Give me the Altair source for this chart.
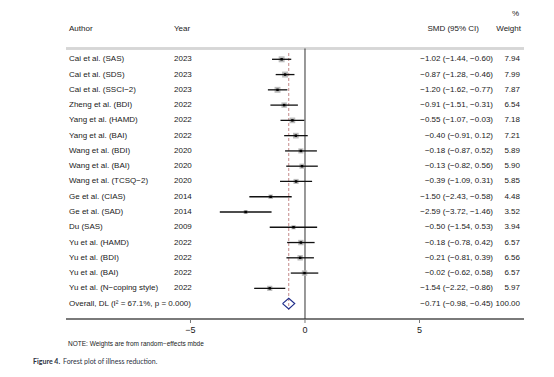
import altair as alt
import pandas as pd

# ---- data ----
authors = ["Cai et al. (SAS)", "Cai et al. (SDS)", "Cai et al. (SSCI\u22122)", "Zheng et al. (BDI)",
           "Yang et al. (HAMD)", "Yang et al. (BAI)", "Wang et al. (BDI)", "Wang et al. (BAI)",
           "Wang et al. (TCSQ\u22122)", "Ge et al. (CIAS)", "Ge et al. (SAD)", "Du (SAS)",
           "Yu et al. (HAMD)", "Yu et al. (BDI)", "Yu et al. (BAI)", "Yu et al. (N\u2212coping style)"]
years = [2023, 2023, 2023, 2022, 2022, 2022, 2020, 2020, 2020, 2014, 2014, 2009, 2022, 2022, 2022, 2022]
smd = [-1.02, -0.87, -1.20, -0.91, -0.55, -0.40, -0.18, -0.13, -0.39, -1.50, -2.59, -0.50, -0.18, -0.21, -0.02, -1.54]
ci_lo = [-1.44, -1.28, -1.62, -1.51, -1.07, -0.91, -0.87, -0.82, -1.09, -2.43, -3.72, -1.54, -0.78, -0.81, -0.62, -2.22]
ci_hi = [-0.60, -0.46, -0.77, -0.31, -0.03, 0.12, 0.52, 0.56, 0.31, -0.58, -1.46, 0.53, 0.42, 0.39, 0.58, -0.86]
weights = [7.94, 7.99, 7.87, 6.54, 7.18, 7.21, 5.89, 5.90, 5.85, 4.48, 3.52, 3.94, 6.57, 6.56, 6.57, 5.97]

overall_label = "Overall, DL (I\u00b2 = 67.1%, p = 0.000)"
overall_smd, overall_lo, overall_hi, overall_weight = -0.71, -0.98, -0.45, 100.00

axis_ticks = [-5, 0, 5]
headers = {"author": "Author", "year": "Year", "ci": "SMD (95% CI)", "weight": "Weight", "pct": "%"}
note_text = "NOTE: Weights are from random\u2212effects mbde"
caption_bold = "Figure 4."
caption_text = "Forest plot of illness reduction."


def fmt(v):
    return f"{v:.2f}".replace("-", "\u2212")


n = len(authors)
studies = pd.DataFrame({
    "row": list(range(1, n + 1)),
    "author": authors,
    "year": [str(y) for y in years],
    "smd": smd, "lo": ci_lo, "hi": ci_hi, "w": weights,
})
studies["ci"] = [f"{fmt(s)} ({fmt(l)}, {fmt(h)})" for s, l, h in zip(smd, ci_lo, ci_hi)]
studies["wt"] = [f"{w:.2f}" for w in weights]
studies["sq"] = studies["w"] * 4.5

orow = n + 1
overall = pd.DataFrame({
    "row": [orow], "author": [overall_label], "year": [""],
    "smd": [overall_smd], "lo": [overall_lo], "hi": [overall_hi],
    "ci": [f"{fmt(overall_smd)} ({fmt(overall_lo)}, {fmt(overall_hi)})"],
    "wt": [f"{overall_weight:.2f}"],
})
labels = pd.concat([studies[["row", "author", "year", "ci", "wt"]],
                    overall[["row", "author", "year", "ci", "wt"]]], ignore_index=True)

dh = 0.35
diamond = pd.DataFrame({
    "smd": [overall_lo, overall_smd, overall_hi, overall_smd, overall_lo],
    "row": [orow, orow - dh, orow, orow + dh, orow],
    "o": [0, 1, 2, 3, 4],
})
ticks = pd.DataFrame({"smd": axis_ticks,
                      "lab": [str(t).replace("-", "\u2212") for t in axis_ticks]})

W, H = 538, 361
xs = alt.Scale(domain=[-12.969, 10.524], nice=False, zero=False)
ys = alt.Scale(domain=[-2.3595, 21.282], nice=False, zero=False, reverse=True)
X = lambda f: alt.X(f, type="quantitative", scale=xs, axis=None)
Y = lambda f: alt.Y(f, type="quantitative", scale=ys, axis=None)

FONT = "Liberation Sans"
TXT = "#1a1a1a"

base_s = alt.Chart(studies)
base_l = alt.Chart(labels)

header_line = alt.Chart(studies).mark_rule(color="#d6d6d6", strokeWidth=1.6).encode(
    x=alt.value(58), x2=alt.value(516), y=alt.value(40.5))
axis_line = alt.Chart(studies).mark_rule(color="#7a7a7a", strokeWidth=1).encode(
    x=alt.value(58), x2=alt.value(516), y=alt.value(311))
zero_line = alt.Chart(ticks).transform_filter("datum.smd == 0").mark_rule(
    color="#333333", strokeWidth=1).encode(x=X("smd"), y=alt.value(40.5), y2=alt.value(311))
dash_line = alt.Chart(overall).mark_rule(color="#c48a8a", strokeWidth=1, strokeDash=[3, 2]).encode(
    x=X("smd"), y=alt.value(45), y2=alt.value(302))
tick_marks = alt.Chart(ticks).mark_rule(color="#7a7a7a", strokeWidth=1).encode(
    x=X("smd"), y=alt.value(311), y2=alt.value(315))
tick_labels = alt.Chart(ticks).mark_text(font=FONT, fontSize=9, color=TXT, baseline="middle").encode(
    x=X("smd"), y=alt.value(322), text="lab:N")

squares = base_s.mark_point(shape="square", filled=True, color="#bdbdbd", opacity=1).encode(
    x=X("smd"), y=Y("row"), size=alt.Size("sq:Q", scale=None, legend=None))
cis = base_s.mark_rule(color="#111111", strokeWidth=1.3).encode(x=X("lo"), x2="hi", y=Y("row"))
dots = base_s.mark_point(shape="square", filled=True, color="#000000", size=6, opacity=1).encode(
    x=X("smd"), y=Y("row"))
dia = alt.Chart(diamond).mark_line(color="#1f2d8a", strokeWidth=1.2).encode(
    x=X("smd"), y=Y("row"), order="o:O")

t_author = base_l.mark_text(font=FONT, fontSize=8, color=TXT, align="left", baseline="middle").encode(
    x=alt.value(61), y=Y("row"), text="author:N")
t_year = base_l.mark_text(font=FONT, fontSize=8, color=TXT, align="left", baseline="middle").encode(
    x=alt.value(166), y=Y("row"), text="year:N")
t_ci = base_l.mark_text(font=FONT, fontSize=8, color=TXT, align="right", baseline="middle").encode(
    x=alt.value(485), y=Y("row"), text="ci:N")
t_wt = base_l.mark_text(font=FONT, fontSize=8, color=TXT, align="right", baseline="middle").encode(
    x=alt.value(512), y=Y("row"), text="wt:N")


def label(txt, x, y, align="left", size=8, weight="normal", font=FONT, color=TXT):
    return alt.Chart(pd.DataFrame({"t": [txt]})).mark_text(
        font=font, fontSize=size, fontWeight=weight, color=color, align=align, baseline="middle"
    ).encode(x=alt.value(x), y=alt.value(y), text="t:N")


h_author = label(headers["author"], 61, 21)
h_year = label(headers["year"], 166, 21)
h_ci = label(headers["ci"], 471, 21, align="right")
h_wt = label(headers["weight"], 513, 21, align="right")
h_pct = label(headers["pct"], 511, 6, align="right")
note = label(note_text, 60, 336, size=6.5)
cap1 = label(caption_bold, 25, 354, size=7, weight="bold", font="Lato", color="#2b3040")
cap2 = label(caption_text, 55, 354, size=7, font="Lato", color="#2b3040")

chart = alt.layer(
    header_line, axis_line, zero_line, dash_line, tick_marks, tick_labels,
    squares, cis, dots, dia,
    t_author, t_year, t_ci, t_wt,
    h_author, h_year, h_ci, h_wt, h_pct, note, cap1, cap2,
).properties(
    width=W, height=H, autosize=alt.AutoSizeParams(type="none"), padding=0,
    background="white",
).configure_view(stroke=None)

chart.save("out.html", embed_options={"renderer": "svg", "actions": False})
